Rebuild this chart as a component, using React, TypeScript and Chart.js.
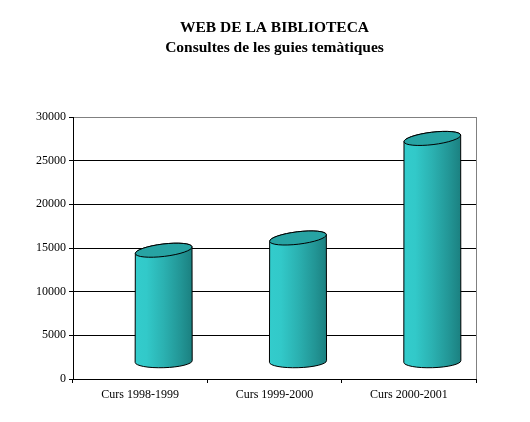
import React, { useEffect, useRef } from "react";
import { Chart, registerables } from "chart.js";

Chart.register(...registerables);

const categories: string[] = ["Curs 1998-1999", "Curs 1999-2000", "Curs 2000-2001"];
const consultes: number[] = [12800, 14200, 25600];
const yTicks: number[] = [0, 5000, 10000, 15000, 20000, 25000, 30000];
const titleText = "WEB DE LA BIBLIOTECA";
const subtitleText = "Consultes de les guies temàtiques";

const FONT = "'Liberation Serif', 'Times New Roman', serif";
const DEPTH_DX = 23.5;
const DEPTH_DY = -17;

const cylinderPlugin = {
  id: "cylinders",
  afterDatasetsDraw(chart: any) {
    const ctx: CanvasRenderingContext2D = chart.ctx;
    const meta = chart.getDatasetMeta(0);
    meta.data.forEach((bar: any) => {
      const { x, y, base, width } = bar.getProps(["x", "y", "base", "width"], true);
      const cx = x + DEPTH_DX;
      const rx = width / 2;
      const ry = 6.2;
      const rotT = -0.12;
      const rotB = -0.03;
      const yTop = y + DEPTH_DY;
      const yBot = base + DEPTH_DY;
      const x0 = cx - rx;
      const x1 = cx + rx;
      ctx.save();
      const g = ctx.createLinearGradient(x0, 0, x1, 0);
      g.addColorStop(0, "#33cccc");
      g.addColorStop(0.2, "#32c9c9");
      g.addColorStop(0.5, "#2bb1b1");
      g.addColorStop(0.8, "#229595");
      g.addColorStop(1, "#1b8080");
      ctx.beginPath();
      ctx.moveTo(cx - rx * Math.cos(rotT), yTop - rx * Math.sin(rotT));
      ctx.lineTo(cx - rx * Math.cos(rotB), yBot - rx * Math.sin(rotB));
      ctx.ellipse(cx, yBot, rx, ry, rotB, Math.PI, 0, true);
      ctx.lineTo(cx + rx * Math.cos(rotT), yTop + rx * Math.sin(rotT));
      ctx.ellipse(cx, yTop, rx, ry, rotT, 0, Math.PI, true);
      ctx.closePath();
      ctx.fillStyle = g;
      ctx.fill();
      ctx.lineWidth = 1;
      ctx.strokeStyle = "#000000";
      ctx.stroke();
      ctx.beginPath();
      ctx.ellipse(cx, yTop, rx, ry, rotT, 0, Math.PI * 2);
      ctx.fillStyle = "#27a3a3";
      ctx.fill();
      ctx.stroke();
      ctx.restore();
    });
  },
};

const borderPlugin = {
  id: "plotBorder",
  afterDraw(chart: any) {
    const { ctx, chartArea } = chart;
    ctx.save();
    ctx.strokeStyle = "#808080";
    ctx.lineWidth = 1;
    const xr = Math.round(chartArea.right) + 0.5;
    ctx.beginPath();
    ctx.moveTo(xr, chartArea.top);
    ctx.lineTo(xr, chartArea.bottom);
    ctx.stroke();
    ctx.restore();
  },
};

export default function App() {
  const ref = useRef<HTMLCanvasElement | null>(null);
  useEffect(() => {
    if (!ref.current) return;
    const chart = new Chart(ref.current, {
      type: "bar",
      data: {
        labels: categories,
        datasets: [
          {
            data: consultes,
            backgroundColor: "rgba(0,0,0,0)",
            borderWidth: 0,
            barPercentage: 0.425,
            categoryPercentage: 1,
          },
        ],
      },
      options: {
        responsive: false,
        animation: false,
        devicePixelRatio: 1,
        layout: { padding: { left: 0, right: 54, top: 0, bottom: 0 } },
        plugins: {
          legend: { display: false },
          tooltip: { enabled: false },
          title: {
            display: true,
            text: titleText,
            fullSize: false,
            color: "#000",
            font: { family: FONT, size: 15.5, weight: "bold", lineHeight: "18px" },
            padding: { top: 19, bottom: 0 },
          },
          subtitle: {
            display: true,
            text: subtitleText,
            fullSize: false,
            color: "#000",
            font: { family: FONT, size: 15.5, weight: "bold", lineHeight: "18px" },
            padding: { top: 2, bottom: 60 },
          },
        },
        scales: {
          x: {
            grid: {
              display: true,
              offset: true,
              drawOnChartArea: false,
              tickLength: 4,
              tickColor: "#000",
            },
            border: { display: true, color: "#000", width: 1 },
            ticks: {
              color: "#000",
              font: { family: FONT, size: 12 },
              padding: 5,
              maxRotation: 0,
            },
            afterFit(scale: any) {
              scale.height = 43;
            },
          },
          y: {
            min: 0,
            max: 30000,
            afterBuildTicks(scale: any) {
              scale.ticks = yTicks.map((v) => ({ value: v }));
            },
            grid: {
              color: (c: any) => (c.tick && c.tick.value === 30000 ? "#808080" : "#000"),
              tickColor: "#000",
              tickLength: 4,
            },
            border: { display: true, color: "#000", width: 1 },
            ticks: {
              color: "#000",
              font: { family: FONT, size: 12 },
              padding: 3,
              callback: (v: any) => String(v),
            },
            afterFit(scale: any) {
              scale.width = 73;
            },
          },
        },
      },
      plugins: [cylinderPlugin, borderPlugin],
    });
    return () => chart.destroy();
  }, []);
  return (
    <canvas
      ref={ref}
      width={530}
      height={422}
      style={{ position: "absolute", left: 0, top: 0, width: 530, height: 422 }}
    />
  );
}
